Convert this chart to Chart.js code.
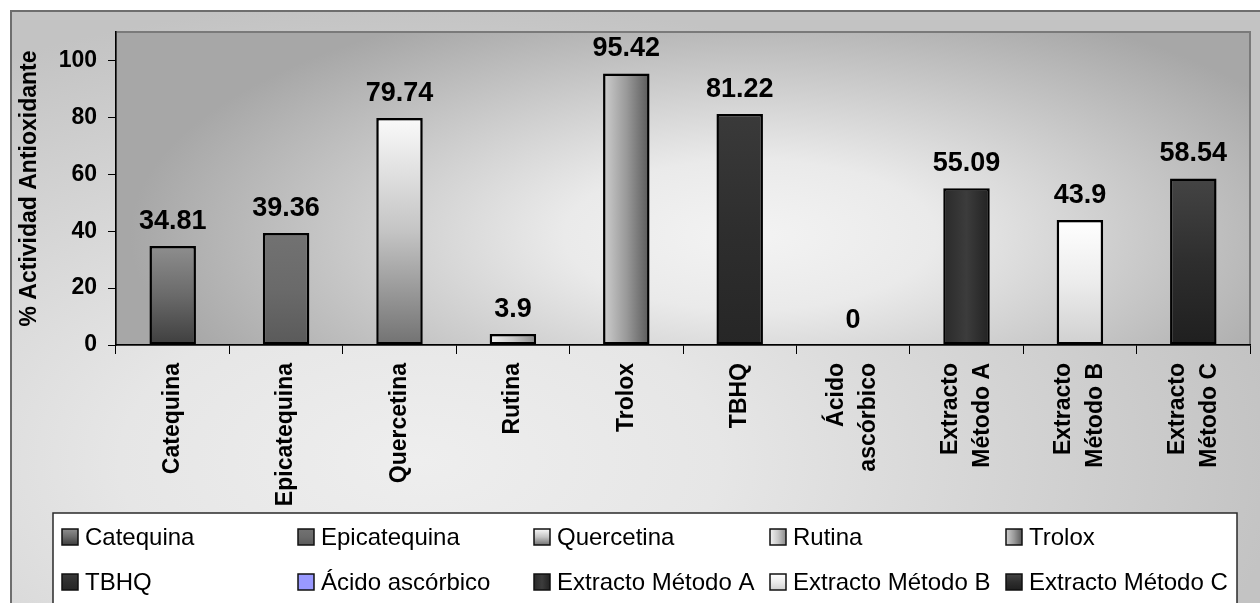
<!DOCTYPE html>
<html>
<head>
<meta charset="utf-8">
<script src="https://cdn.jsdelivr.net/npm/chart.js@4.4.1/dist/chart.umd.min.js"></script>
<style>
  html, body { margin: 0; padding: 0; background: #ffffff; }
  #wrap { width: 1260px; height: 603px; position: relative; }
</style>
</head>
<body>
<div id="wrap"><canvas id="chart" width="1260" height="603"></canvas></div>
<script>
// Antioxidant activity of standards and extracts
const categories = ['Catequina', 'Epicatequina', 'Quercetina', 'Rutina', 'Trolox', 'TBHQ',
  'Ácido ascórbico', 'Extracto Método A', 'Extracto Método B', 'Extracto Método C'];
const axisLabels = ['Catequina', 'Epicatequina', 'Quercetina', 'Rutina', 'Trolox', 'TBHQ',
  ['Ácido', 'ascórbico'], ['Extracto', 'Método A'], ['Extracto', 'Método B'], ['Extracto', 'Método C']];
const activity = [34.81, 39.36, 79.74, 3.9, 95.42, 81.22, 0, 55.09, 43.9, 58.54];
const yTicks = [0, 20, 40, 60, 80, 100];
const yTitle = '% Actividad Antioxidante';

// Fill style of every bar: gradient direction and colour stops
const barStyles = [
  { dir: 'v', stops: ['#8e8e8e', '#6a6a6a', '#3e3e3e'] },
  { dir: 'v', stops: ['#727272', '#6a6a6a', '#5a5a5a'] },
  { dir: 'v', stops: ['#fafafa', '#c4c4c4', '#727272'] },
  { dir: 'h', stops: ['#f2f2f2', '#c8c8c8', '#8a8a8a'] },
  { dir: 'h', stops: ['#cfcfcf', '#9a9a9a', '#5a5a5a'] },
  { dir: 'v', stops: ['#3a3a3a', '#2e2e2e', '#262626'] },
  { dir: 'v', stops: ['#9999ff', '#9999ff', '#9999ff'] },
  { dir: 'h', stops: ['#2a2a2a', '#3c3c3c', '#222222'] },
  { dir: 'v', stops: ['#ffffff', '#ececec', '#d0d0d0'] },
  { dir: 'v', stops: ['#444444', '#2e2e2e', '#1f1f1f'] }
];

const FONT = "'Liberation Sans', Arial, Helvetica, sans-serif";
const BAR_PCT = 0.41;

function makeGradient(ctx, style, x0, y0, x1, y1) {
  const g = style.dir === 'h'
    ? ctx.createLinearGradient(x0, 0, x1, 0)
    : ctx.createLinearGradient(0, y0, 0, y1);
  const n = style.stops.length;
  style.stops.forEach((c, k) => g.addColorStop(k / (n - 1), c));
  return g;
}

function barFill(context) {
  const chart = context.chart;
  const i = context.dataIndex;
  const xs = chart.scales.x, ys = chart.scales.y;
  const style = barStyles[i];
  if (!xs || !ys || !chart.chartArea) return style.stops[1];
  const cx = xs.getPixelForValue(i);
  const half = xs.width / categories.length * BAR_PCT / 2;
  const top = ys.getPixelForValue(activity[i]);
  const base = ys.getPixelForValue(0);
  return makeGradient(chart.ctx, style, cx - half, top, cx + half, base);
}

// Backgrounds: outer panel, plot area, legend box
const backgroundPlugin = {
  id: 'panelBackground',
  beforeDraw(chart) {
    const ctx = chart.ctx;
    const { left, top, right, bottom } = chart.chartArea;
    ctx.save();
    ctx.fillStyle = '#ffffff';
    ctx.fillRect(0, 0, chart.width, chart.height);

    // outer panel
    ctx.save();
    ctx.beginPath();
    ctx.rect(10, 10, chart.width, chart.height);
    ctx.clip();
    ctx.translate(420, 460);
    ctx.scale(1, 460 / 860);
    let g = ctx.createRadialGradient(0, 0, 0, 0, 0, 860);
    g.addColorStop(0, '#eeeeee');
    g.addColorStop(0.35, '#e6e6e6');
    g.addColorStop(1, '#c3c3c3');
    ctx.fillStyle = g;
    ctx.fillRect(-2000, -2000, 4000, 4000);
    ctx.restore();
    ctx.strokeStyle = '#6e6e6e';
    ctx.lineWidth = 2;
    ctx.strokeRect(11, 11, chart.width + 20, chart.height + 20);

    // plot area
    ctx.save();
    ctx.beginPath();
    ctx.rect(left, top, right - left, bottom - top);
    ctx.clip();
    ctx.translate(750, 235);
    ctx.scale(1, 250 / 620);
    g = ctx.createRadialGradient(0, 0, 0, 0, 0, 620);
    g.addColorStop(0, '#f3f3f3');
    g.addColorStop(0.3, '#eaeaea');
    g.addColorStop(1, '#a7a7a7');
    ctx.fillStyle = g;
    ctx.fillRect(-2000, -2000, 4000, 4000);
    ctx.restore();
    ctx.strokeStyle = '#7a7a7a';
    ctx.lineWidth = 2;
    ctx.strokeRect(left, top, right - left, bottom - top);

    // legend box
    ctx.fillStyle = '#ffffff';
    ctx.fillRect(53, 513, 1237 - 53, 120);
    ctx.strokeStyle = '#2a2a2a';
    ctx.lineWidth = 1.5;
    ctx.strokeRect(53, 513, 1237 - 53, 120);
    ctx.restore();
  }
};

// Category labels under the x axis, rotated and centred on each bar
const categoryLabelPlugin = {
  id: 'categoryLabels',
  afterDraw(chart) {
    const ctx = chart.ctx;
    const xs = chart.scales.x;
    const y0 = chart.chartArea.bottom + 18;
    const lh = 32;
    ctx.save();
    ctx.font = 'bold 23px ' + FONT;
    ctx.fillStyle = '#000000';
    ctx.textAlign = 'right';
    ctx.textBaseline = 'middle';
    axisLabels.forEach((lab, i) => {
      const lines = Array.isArray(lab) ? lab : [lab];
      const cx = xs.getPixelForValue(i);
      lines.forEach((line, j) => {
        const x = cx + (j - (lines.length - 1) / 2) * lh;
        ctx.save();
        ctx.translate(x, y0);
        ctx.rotate(-Math.PI / 2);
        ctx.fillText(line, 0, 0);
        ctx.restore();
      });
    });
    ctx.restore();
  }
};

// Value labels above the bars
const valueLabelPlugin = {
  id: 'valueLabels',
  afterDatasetsDraw(chart) {
    const ctx = chart.ctx;
    const meta = chart.getDatasetMeta(0);
    ctx.save();
    ctx.font = 'bold 27px ' + FONT;
    ctx.fillStyle = '#000000';
    ctx.textAlign = 'center';
    ctx.textBaseline = 'alphabetic';
    meta.data.forEach((bar, i) => {
      ctx.fillText(String(activity[i]), bar.x, bar.y - 17);
    });
    ctx.restore();
  }
};

// Legend laid out in five columns inside the white box
const legendPlugin = {
  id: 'gridLegend',
  afterDraw(chart) {
    const ctx = chart.ctx;
    const colX = 62, colW = 236, rows = [537, 582], sw = 16;
    ctx.save();
    ctx.font = '24px ' + FONT;
    ctx.textBaseline = 'middle';
    ctx.textAlign = 'left';
    categories.forEach((name, i) => {
      const sx = colX + (i % 5) * colW;
      const cy = rows[Math.floor(i / 5)];
      const sy = cy - sw / 2;
      ctx.fillStyle = makeGradient(ctx, barStyles[i], sx, sy, sx + sw, sy + sw);
      ctx.fillRect(sx, sy, sw, sw);
      ctx.strokeStyle = '#111111';
      ctx.lineWidth = 1.5;
      ctx.strokeRect(sx, sy, sw, sw);
      ctx.fillStyle = '#000000';
      ctx.fillText(name, sx + sw + 7, cy + 1);
    });
    ctx.restore();
  }
};

new Chart(document.getElementById('chart'), {
  type: 'bar',
  data: {
    labels: categories,
    datasets: [{
      label: yTitle,
      data: activity,
      backgroundColor: barFill,
      borderColor: '#000000',
      borderWidth: 2.5,
      borderSkipped: false,
      barPercentage: BAR_PCT,
      categoryPercentage: 1.0
    }]
  },
  options: {
    responsive: false,
    animation: false,
    events: [],
    layout: { padding: { left: 10, top: 32, right: 10, bottom: 93 } },
    plugins: {
      legend: { display: false },
      tooltip: { enabled: false },
      title: { display: false }
    },
    scales: {
      x: {
        type: 'category',
        offset: true,
        grid: { offset: true, drawOnChartArea: false, drawTicks: true, tickLength: 9, color: '#000000', lineWidth: 1 },
        border: { display: true, color: '#000000', width: 1.5 },
        ticks: { display: false },
        afterFit(scale) { scale.height = 165; }
      },
      y: {
        min: 0,
        max: 110,
        grid: { drawOnChartArea: false, drawTicks: true, tickLength: 8, color: '#000000', lineWidth: 1 },
        border: { display: true, color: '#000000', width: 1.5 },
        ticks: {
          color: '#000000',
          padding: 11,
          font: { family: FONT, size: 23, weight: 'bold' }
        },
        title: {
          display: true,
          text: yTitle,
          color: '#000000',
          padding: { top: 6, bottom: 0 },
          font: { family: FONT, size: 23, weight: 'bold' }
        },
        afterBuildTicks(scale) { scale.ticks = yTicks.map(v => ({ value: v })); },
        afterFit(scale) { scale.width = 106; }
      }
    }
  },
  plugins: [backgroundPlugin, categoryLabelPlugin, valueLabelPlugin, legendPlugin]
});
</script>
</body>
</html>
